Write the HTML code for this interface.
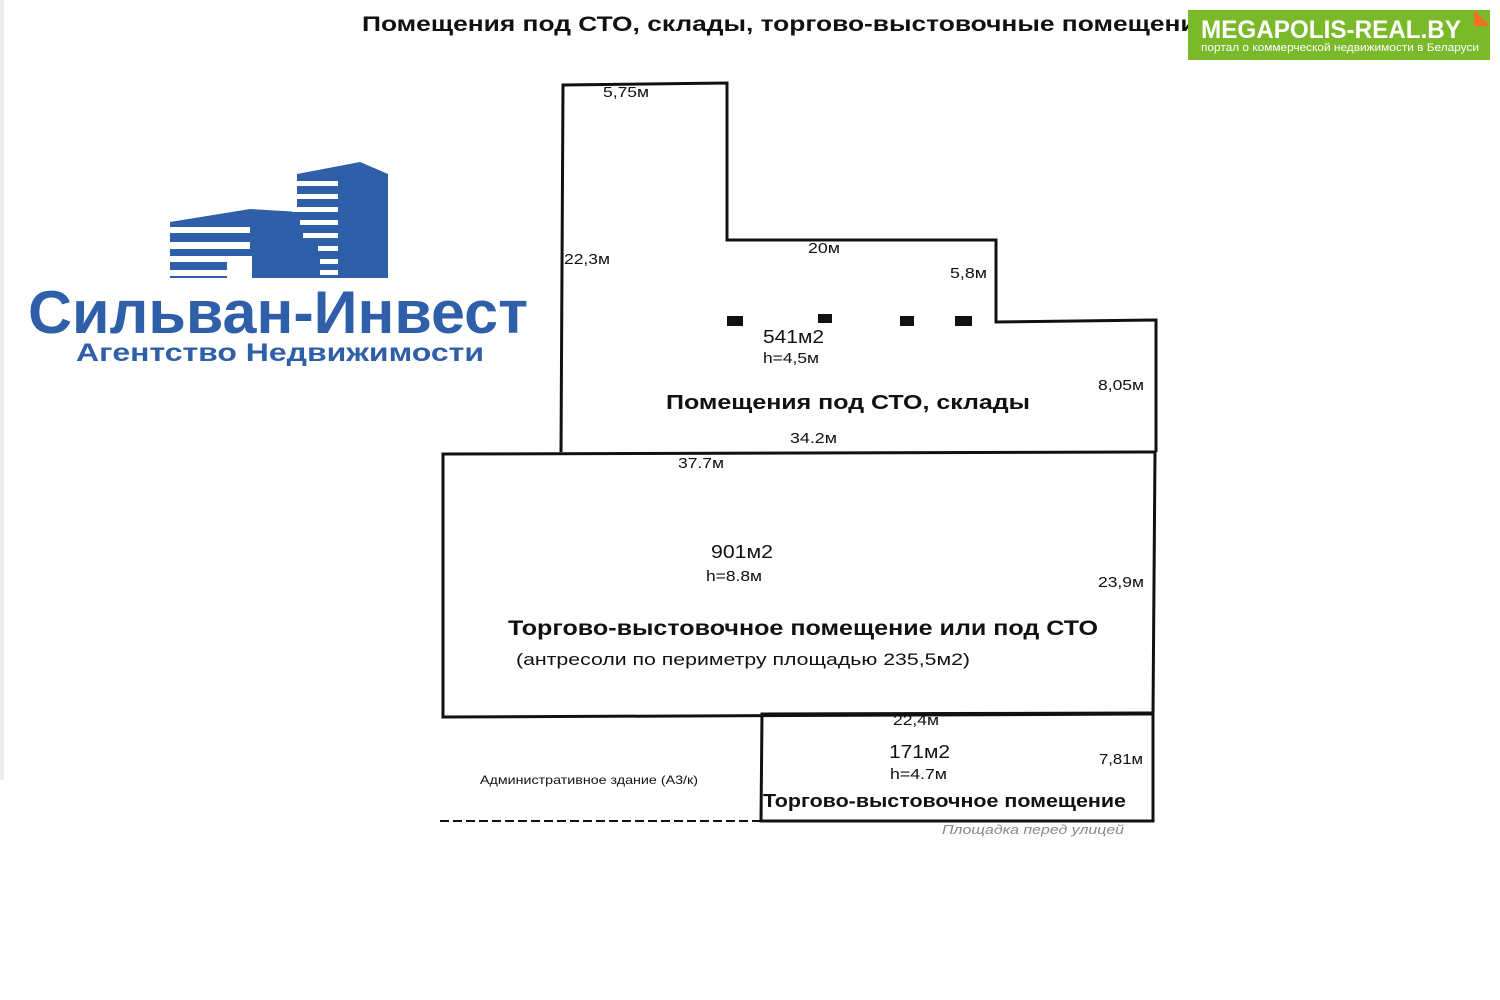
<!DOCTYPE html>
<html><head><meta charset="utf-8"><style>
html,body{margin:0;padding:0;background:#fff;}
svg{display:block}
text{font-family:"Liberation Sans","DejaVu Sans",sans-serif;}
</style></head><body>
<svg width="1500" height="1000" viewBox="0 0 1500 1000" xmlns="http://www.w3.org/2000/svg">
<rect width="1500" height="1000" fill="#fff"/>
<rect x="0" y="0" width="4" height="780" fill="#ececec"/>
<text x="362" y="31" font-size="21" font-weight="bold" fill="#111" textLength="850" lengthAdjust="spacingAndGlyphs">Помещения под СТО, склады, торгово-выстовочные помещения</text>
<rect x="1188" y="10" width="302" height="50" fill="#7ab929"/>
<polygon points="1474,10 1490,26 1474,26" fill="#f36f21"/>
<text x="1201" y="38" font-size="25" font-weight="bold" fill="#fff" textLength="260" lengthAdjust="spacingAndGlyphs">MEGAPOLIS-REAL.BY</text>
<text x="1201" y="51" font-size="11" fill="#fff" textLength="278" lengthAdjust="spacingAndGlyphs">портал о коммерческой недвижимости в Беларуси</text>
<g fill="#2f5fa8">
<polygon points="297,174 360,162 388,174 388,278 297,278"/>
<polygon points="170,222 250,209 300,212 330,222 330,278 170,278"/>
</g>
<g fill="#fff">
<rect x="165" y="227" width="85" height="6"/>
<rect x="165" y="242" width="85" height="7"/>
<rect x="165" y="256" width="62" height="6"/>
<rect x="165" y="270" width="62" height="6"/>
<rect x="227" y="256" width="25" height="23"/>
<rect x="292" y="181" width="46" height="5"/>
<rect x="292" y="194" width="46" height="5"/>
<rect x="292" y="207" width="46" height="5"/>
<rect x="300" y="220" width="38" height="5"/>
<rect x="303" y="233" width="35" height="5"/>
<rect x="318" y="246" width="20" height="5"/>
<rect x="320" y="259" width="18" height="5"/>
<rect x="320" y="270" width="18" height="5"/>
</g>
<text x="28" y="333" font-size="60" font-weight="bold" fill="#2f5fa8" textLength="500" lengthAdjust="spacingAndGlyphs">Сильван-Инвест</text>
<text x="76" y="361" font-size="25" font-weight="bold" fill="#2f5fa8" textLength="408" lengthAdjust="spacingAndGlyphs">Агентство Недвижимости</text>
<g fill="none" stroke="#111" stroke-width="3">
<polyline points="561,452 563,85 727,83 727,240 996,240 996,322 1156,320 1156,452"/>
<polygon points="443,454 1155,452 1153,714 443,717"/>
<polygon points="762,714 1153,713 1153,821 761,821"/>
</g>
<line x1="440" y1="821" x2="761" y2="821" stroke="#111" stroke-width="2" stroke-dasharray="9,4"/>
<g fill="#111">
<rect x="727" y="316" width="16" height="10"/>
<rect x="818" y="314" width="14" height="9"/>
<rect x="900" y="316" width="14" height="10"/>
<rect x="955" y="316" width="17" height="10"/>
</g>
<g fill="#111" font-size="15">
<text x="603" y="97" textLength="46" lengthAdjust="spacingAndGlyphs">5,75м</text>
<text x="564" y="264" textLength="46" lengthAdjust="spacingAndGlyphs">22,3м</text>
<text x="808" y="253" textLength="32" lengthAdjust="spacingAndGlyphs">20м</text>
<text x="950" y="278" textLength="37" lengthAdjust="spacingAndGlyphs">5,8м</text>
<text x="763" y="343" font-size="18" textLength="61" lengthAdjust="spacingAndGlyphs">541м2</text>
<text x="763" y="363" textLength="56" lengthAdjust="spacingAndGlyphs">h=4,5м</text>
<text x="1098" y="390" textLength="46" lengthAdjust="spacingAndGlyphs">8,05м</text>
<text x="790" y="443" textLength="47" lengthAdjust="spacingAndGlyphs">34.2м</text>
<text x="678" y="468" textLength="46" lengthAdjust="spacingAndGlyphs">37.7м</text>
<text x="711" y="558" font-size="18" textLength="62" lengthAdjust="spacingAndGlyphs">901м2</text>
<text x="706" y="581" textLength="56" lengthAdjust="spacingAndGlyphs">h=8.8м</text>
<text x="1098" y="587" textLength="46" lengthAdjust="spacingAndGlyphs">23,9м</text>
<text x="893" y="725" textLength="46" lengthAdjust="spacingAndGlyphs">22,4м</text>
<text x="889" y="758" font-size="18" textLength="61" lengthAdjust="spacingAndGlyphs">171м2</text>
<text x="890" y="779" textLength="57" lengthAdjust="spacingAndGlyphs">h=4.7м</text>
<text x="1099" y="764" textLength="44" lengthAdjust="spacingAndGlyphs">7,81м</text>
<text x="480" y="784" font-size="12" textLength="218" lengthAdjust="spacingAndGlyphs">Административное здание (А3/к)</text>
<text x="942" y="834" font-size="13" fill="#888" font-style="italic" textLength="182" lengthAdjust="spacingAndGlyphs">Площадка перед улицей</text>
</g>
<g fill="#111" font-weight="bold">
<text x="666" y="409" font-size="20" textLength="364" lengthAdjust="spacingAndGlyphs">Помещения под СТО, склады</text>
<text x="508" y="635" font-size="21" textLength="590" lengthAdjust="spacingAndGlyphs">Торгово-выстовочное помещение или под СТО</text>
<text x="763" y="807" font-size="18" textLength="363" lengthAdjust="spacingAndGlyphs">Торгово-выстовочное помещение</text>
</g>
<text x="516" y="665" font-size="17" fill="#111" textLength="454" lengthAdjust="spacingAndGlyphs">(антресоли по периметру площадью 235,5м2)</text>
</svg>
</body></html>
